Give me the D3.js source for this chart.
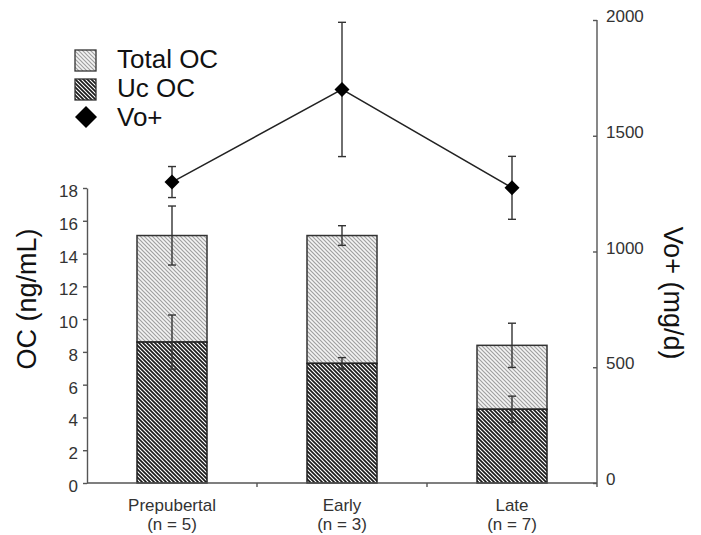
<!DOCTYPE html>
<html lang="en">
<head>
<meta charset="UTF-8" />
<title>OC and Vo+ by pubertal stage</title>
<script src="https://d3js.org/d3.v7.min.js"></script>
<style>
  body { margin: 0; background: #fff; }
  svg { display: block; font-family: 'Liberation Sans', Arial, sans-serif; }
  .axis path, .axis line { stroke: #555; stroke-width: 1.4px; }
  .axis text { font-size: 17px; fill: #333; }
  .title { font-size: 27px; fill: #111; }
  .legend text { font-size: 26px; fill: #111; }
</style>
</head>
<body>
<div id="chart"></div>
<script>
const categories = ["Prepubertal", "Early", "Late"];
const nLabels = ["(n = 5)", "(n = 3)", "(n = 7)"];
const totalOC = [15.1, 15.1, 8.4];
const totalErr = [1.8, 0.6, 1.35];
const ucOC = [8.6, 7.3, 4.5];
const ucErr = [1.65, 0.35, 0.8];
const voPlus = [1300, 1700, 1275];
const voErr = [67, 290, 136];
const leftTicks = [0, 2, 4, 6, 8, 10, 12, 14, 16, 18];
const rightTicks = [0, 500, 1000, 1500, 2000];

const width = 701, height = 535;
const left = 87, right = 597, bottom = 483;

const svg = d3.select("#chart").append("svg")
  .attr("width", width).attr("height", height);

// hatch patterns
const defs = svg.append("defs");
function hatch(id, bg, stroke, sw) {
  const p = defs.append("pattern")
    .attr("id", id).attr("patternUnits", "userSpaceOnUse")
    .attr("width", 4).attr("height", 4);
  p.append("rect").attr("width", 4).attr("height", 4).attr("fill", bg);
  p.append("path")
    .attr("d", "M0,0 L4,4 M-1,3 L1,5 M3,-1 L5,1")
    .attr("stroke", stroke).attr("stroke-width", sw);
}
hatch("light", "#f4f4f4", "#a0a0a0", 1.2);
hatch("dark", "#ffffff", "#1a1a1a", 1.7);

const x = d3.scaleBand().domain(categories).range([left, right]).paddingInner(0).paddingOuter(0);
const yL = d3.scaleLinear().domain([0, 18]).range([bottom, 188]);
const yR = d3.scaleLinear().domain([0, 2000]).range([bottom, 20]);
const barW = 70;

const rows = categories.map((c, i) => ({
  c, total: totalOC[i], tErr: totalErr[i], uc: ucOC[i], uErr: ucErr[i], vo: voPlus[i], vErr: voErr[i]
}));

// bars
const bars = svg.append("g");
bars.selectAll(".tot").data(rows).join("rect")
  .attr("x", d => x(d.c) + x.bandwidth() / 2 - barW / 2)
  .attr("y", d => yL(d.total))
  .attr("width", barW)
  .attr("height", d => yL(d.uc) - yL(d.total))
  .attr("fill", "url(#light)")
  .attr("stroke", "#333").attr("stroke-width", 1.5);
bars.selectAll(".uc").data(rows).join("rect")
  .attr("x", d => x(d.c) + x.bandwidth() / 2 - barW / 2)
  .attr("y", d => yL(d.uc))
  .attr("width", barW)
  .attr("height", d => yL(0) - yL(d.uc))
  .attr("fill", "url(#dark)")
  .attr("stroke", "#222").attr("stroke-width", 1.5);

function errBar(g, cx, y1, y2, cap) {
  g.append("line").attr("x1", cx).attr("x2", cx).attr("y1", y1).attr("y2", y2);
  g.append("line").attr("x1", cx - cap).attr("x2", cx + cap).attr("y1", y1).attr("y2", y1);
  g.append("line").attr("x1", cx - cap).attr("x2", cx + cap).attr("y1", y2).attr("y2", y2);
}

const errs = svg.append("g").attr("stroke", "#333").attr("stroke-width", 1.4);
rows.forEach(d => {
  const cx = x(d.c) + x.bandwidth() / 2;
  errBar(errs, cx, yL(d.total + d.tErr), yL(d.total - d.tErr), 4);
  errBar(errs, cx, yL(d.uc + d.uErr), yL(d.uc - d.uErr), 4);
});

// axes
const axL = svg.append("g").attr("class", "axis")
  .attr("transform", `translate(${left},0)`)
  .call(d3.axisLeft(yL).tickValues(leftTicks).tickSizeInner(4).tickSizeOuter(0).tickPadding(5));
axL.selectAll("text").attr("dy", "0.5em");

const axR = svg.append("g").attr("class", "axis")
  .attr("transform", `translate(${right},0)`)
  .call(d3.axisRight(yR).tickValues(rightTicks).tickFormat(d3.format("d"))
    .tickSizeInner(-4).tickSizeOuter(0).tickPadding(9));
axR.select(".domain").attr("d", `M0,${yR(2000)}V${bottom + 4}`);
axR.selectAll("text").attr("dy", "0.1em");

const axX = svg.append("g").attr("class", "axis")
  .attr("transform", `translate(0,${bottom})`)
  .call(d3.axisBottom(x).tickSize(0).tickPadding(0));
axX.select(".domain").attr("d", `M${left},0H${right}`);
axX.selectAll(".tick text").each(function(d, i) {
  const t = d3.select(this).text(null).attr("y", 0).attr("dy", null);
  t.append("tspan").attr("x", 0).attr("y", 28).text(d);
  t.append("tspan").attr("x", 0).attr("y", 47).text(nLabels[i]);
});
axX.selectAll(".sep").data(categories.slice(1)).join("line")
  .attr("x1", d => x(d)).attr("x2", d => x(d))
  .attr("y1", 0).attr("y2", 4);

// Vo+ line
const lineG = svg.append("g");
const vx = d => x(d.c) + x.bandwidth() / 2;
const verr = lineG.append("g").attr("stroke", "#333").attr("stroke-width", 1.4);
rows.forEach(d => errBar(verr, vx(d), yR(d.vo + d.vErr), yR(d.vo - d.vErr), 4));
lineG.append("path")
  .datum(rows)
  .attr("fill", "none").attr("stroke", "#222").attr("stroke-width", 1.5)
  .attr("d", d3.line().x(vx).y(d => yR(d.vo)));
lineG.selectAll(".pt").data(rows).join("path")
  .attr("transform", d => `translate(${vx(d)},${yR(d.vo)})`)
  .attr("d", "M0,-7.5L7.5,0L0,7.5L-7.5,0Z")
  .attr("fill", "#000");

// axis titles
svg.append("text").attr("class", "title")
  .attr("transform", `translate(36,299) rotate(-90)`)
  .attr("text-anchor", "middle").text("OC (ng/mL)");
svg.append("text").attr("class", "title")
  .attr("transform", `translate(664,293) rotate(90)`)
  .attr("text-anchor", "middle").text("Vo+ (mg/d)");

// legend
const leg = svg.append("g").attr("class", "legend");
const legItems = [
  { label: "Total OC", fill: "url(#light)", y: 50 },
  { label: "Uc OC", fill: "url(#dark)", y: 79 }
];
legItems.forEach(it => {
  leg.append("rect").attr("x", 75).attr("y", it.y).attr("width", 21).attr("height", 21)
    .attr("fill", it.fill).attr("stroke", "#333").attr("stroke-width", 1.3);
  leg.append("text").attr("x", 117).attr("y", it.y + 18).text(it.label);
});
leg.append("path").attr("transform", "translate(86,117)")
  .attr("d", "M0,-11L11,0L0,11L-11,0Z").attr("fill", "#000");
leg.append("text").attr("x", 117).attr("y", 126).text("Vo+");
</script>
</body>
</html>
